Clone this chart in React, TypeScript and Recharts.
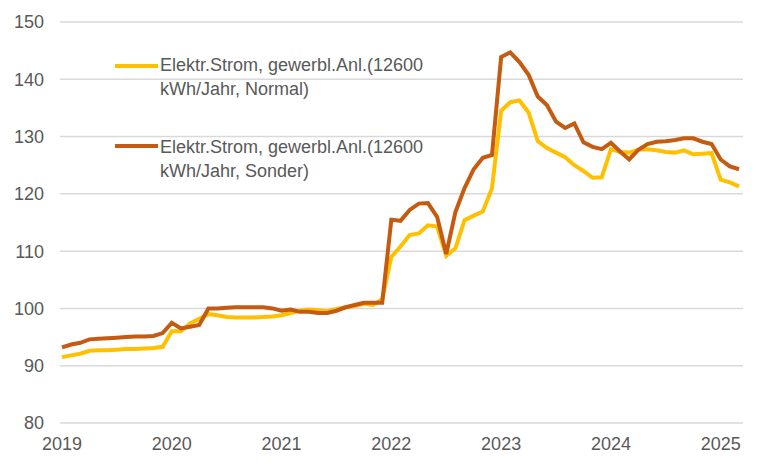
import { LineChart, Line, XAxis, YAxis, CartesianGrid, Legend } from 'recharts';

const years = ['2019', '2020', '2021', '2022', '2023', '2024', '2025'];
const monthNums = ['01', '02', '03', '04', '05', '06', '07', '08', '09', '10', '11', '12'];
const months = years.flatMap((y) => monthNums.map((m) => `${y}-${m}`)).slice(0, 75);

// Elektr.Strom, gewerbl.Anl. (12600 kWh/Jahr, Normal)
const normal = [
    91.5, 91.8, 92.1, 92.6, 92.7, 92.7, 92.8, 92.9, 92.9, 93.0, 93.1, 93.3,
    96.0, 96.0, 97.4, 98.2, 99.0, 98.8, 98.5, 98.4, 98.4, 98.4, 98.5, 98.6,
    98.8, 99.2, 99.6, 99.8, 99.7, 99.5, 99.9, 100.2, 100.4, 100.8, 100.6, 101.6,
    109.0, 110.8, 112.8, 113.1, 114.5, 114.3, 109.2, 110.5, 115.4, 116.2, 116.9, 121.0,
    134.5, 136.0, 136.3, 134.2, 129.2, 128.0, 127.2, 126.4, 125.0, 124.0, 122.8, 122.9,
    127.8, 127.3, 127.2, 127.7, 127.8, 127.6, 127.3, 127.2, 127.6, 126.9, 127.0, 127.1,
    122.5, 122.0, 121.3,
];

// Elektr.Strom, gewerbl.Anl. (12600 kWh/Jahr, Sonder)
const sonder = [
    93.2, 93.7, 94.0, 94.6, 94.7, 94.8, 94.9, 95.0, 95.1, 95.1, 95.2, 95.7,
    97.5, 96.5, 96.8, 97.1, 100.0, 100.0, 100.1, 100.2, 100.2, 100.2, 100.2, 100.0,
    99.6, 99.8, 99.4, 99.4, 99.2, 99.2, 99.6, 100.2, 100.6, 101.0, 101.0, 101.0,
    115.5, 115.3, 117.2, 118.3, 118.4, 116.0, 109.5, 116.8, 121.0, 124.3, 126.3, 126.8,
    143.9, 144.7, 143.0, 140.8, 137.0, 135.5, 132.6, 131.5, 132.3, 129.0, 128.2, 127.8,
    128.9, 127.4, 126.0, 127.7, 128.7, 129.1, 129.2, 129.4, 129.7, 129.7, 129.1, 128.7,
    126.0, 124.8, 124.3,
];

const yTicks = [80, 90, 100, 110, 120, 130, 140, 150];
const xTicks = years.map((y) => `${y}-01`);

const data = months.map((m, i) => ({ month: m, normal: normal[i], sonder: sonder[i] }));

const renderLegend = (props: any) => {
    const { payload } = props;
    return (
        <div>
            {(payload || []).map((entry: any, i: number) => (
                <div
                    key={i}
                    style={{ display: 'flex', alignItems: 'flex-start', marginBottom: i === 0 ? 34 : 0 }}
                >
                    <svg width={45} height={24}>
                        <line x1={0} x2={43} y1={i === 0 ? 13 : 11} y2={i === 0 ? 13 : 11} stroke={entry.color} strokeWidth={4} />
                    </svg>
                    <div style={{ width: 285, fontSize: 18, lineHeight: '24px', color: '#595959' }}>
                        {entry.value}
                    </div>
                </div>
            ))}
        </div>
    );
};

export default function App() {
    return (
        <div
            style={{
                position: 'absolute',
                left: 0,
                top: 0,
                width: 779,
                height: 469,
                background: '#fff',
                fontFamily: '"Liberation Sans", Arial, sans-serif',
            }}
        >
            <LineChart
                width={779}
                height={469}
                data={data}
                margin={{ top: 22, right: 36, bottom: 0, left: 0 }}
            >
                <CartesianGrid vertical={false} stroke="#d9d9d9" strokeWidth={1.5} />
                <XAxis
                    dataKey="month"
                    ticks={xTicks}
                    tickFormatter={(v: string) => v.slice(0, 4)}
                    interval={0}
                    height={46}
                    padding={{ left: 2, right: 4 }}
                    axisLine={false}
                    tickLine={false}
                    tickSize={0}
                    tickMargin={14}
                    tick={{ fill: '#595959', fontSize: 18 }}
                />
                <YAxis
                    type="number"
                    domain={[80, 150]}
                    ticks={yTicks}
                    width={60}
                    axisLine={false}
                    tickLine={false}
                    tickSize={0}
                    tickMargin={16}
                    tick={{ fill: '#595959', fontSize: 18 }}
                />
                <Legend
                    layout="horizontal"
                    verticalAlign="middle"
                    align="center"
                    content={renderLegend}
                    wrapperStyle={{ left: 115, top: 53, width: 340 }}
                />
                <Line
                    type="linear"
                    dataKey="normal"
                    name="Elektr.Strom, gewerbl.Anl.(12600 kWh/Jahr, Normal)"
                    stroke="#FFC000"
                    strokeWidth={4}
                    dot={false}
                    isAnimationActive={false}
                />
                <Line
                    type="linear"
                    dataKey="sonder"
                    name="Elektr.Strom, gewerbl.Anl.(12600 kWh/Jahr, Sonder)"
                    stroke="#C55A11"
                    strokeWidth={4}
                    dot={false}
                    isAnimationActive={false}
                />
            </LineChart>
        </div>
    );
}
